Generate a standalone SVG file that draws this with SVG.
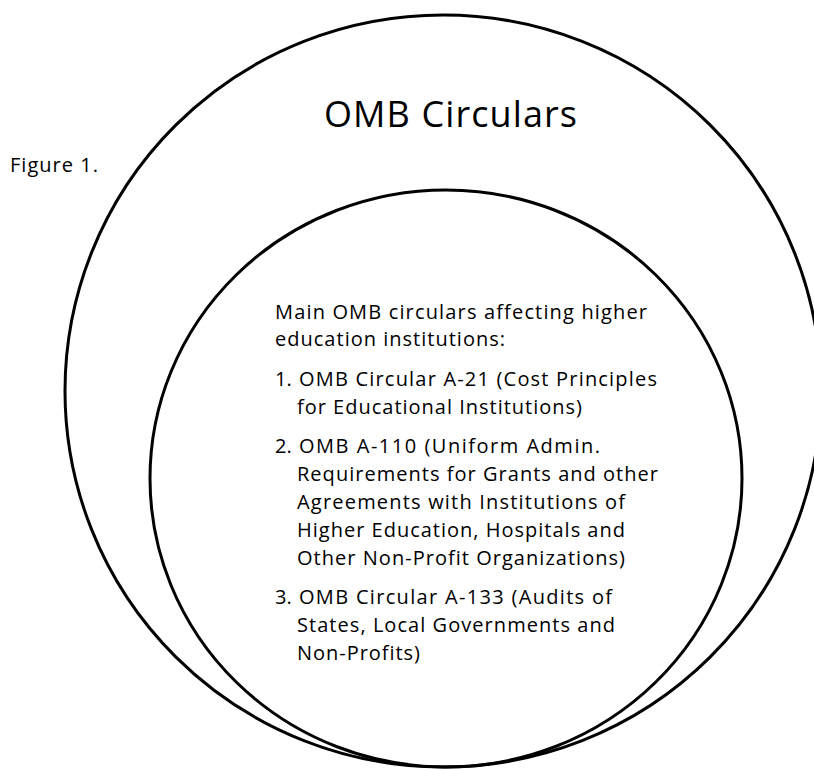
<svg xmlns="http://www.w3.org/2000/svg" width="814" height="769" viewBox="0 0 814 769">
  <style>
    .ring { fill: none; stroke: #000; stroke-width: 3; }
    .txt { font-family: "Open Sans", Lato, "Liberation Sans", sans-serif; fill: #000; font-variant-ligatures: none; font-feature-settings: "liga" 0, "clig" 0; }
    .body { font-size: 20px; }
    .title { font-size: 36px; }
    .label { font-size: 20px; }
  </style>
  <rect x="0" y="0" width="814" height="769" fill="#fff"/>
  <g id="figure-label">
    <text class="txt label" x="10" y="172" textLength="88" lengthAdjust="spacing">Figure 1.</text>
  </g>
  <g id="omb-circulars">
    <ellipse class="ring" cx="443" cy="391" rx="378" ry="376"/>
    <text class="txt title" x="324" y="127" textLength="253" lengthAdjust="spacing">OMB Circulars</text>
  </g>
  <g id="main-circulars">
    <ellipse class="ring" cx="446" cy="478.5" rx="296" ry="288.5"/>
    <g class="txt body">
      <text x="275" y="319" textLength="372" lengthAdjust="spacing">Main OMB circulars affecting higher</text>
      <text x="275" y="346" textLength="230" lengthAdjust="spacing">education institutions:</text>
      <text x="275" y="386">1.</text>
      <text x="299" y="386" textLength="358" lengthAdjust="spacing">OMB Circular A-21 (Cost Principles</text>
      <text x="297" y="414" textLength="285" lengthAdjust="spacing">for Educational Institutions)</text>
      <text x="275" y="453">2.</text>
      <text x="299" y="453" textLength="301" lengthAdjust="spacing">OMB A-110 (Uniform Admin.</text>
      <text x="297" y="481" textLength="361" lengthAdjust="spacing">Requirements for Grants and other</text>
      <text x="297" y="509" textLength="328" lengthAdjust="spacing">Agreements with Institutions of</text>
      <text x="297" y="537" textLength="328" lengthAdjust="spacing">Higher Education, Hospitals and</text>
      <text x="297" y="565" textLength="328" lengthAdjust="spacing">Other Non-Profit Organizations)</text>
      <text x="275" y="604">3.</text>
      <text x="299" y="604" textLength="313" lengthAdjust="spacing">OMB Circular A-133 (Audits of</text>
      <text x="297" y="632" textLength="318" lengthAdjust="spacing">States, Local Governments and</text>
      <text x="297" y="660" textLength="123" lengthAdjust="spacing">Non-Profits)</text>
    </g>
  </g>
  <g id="connectors"/>
</svg>
